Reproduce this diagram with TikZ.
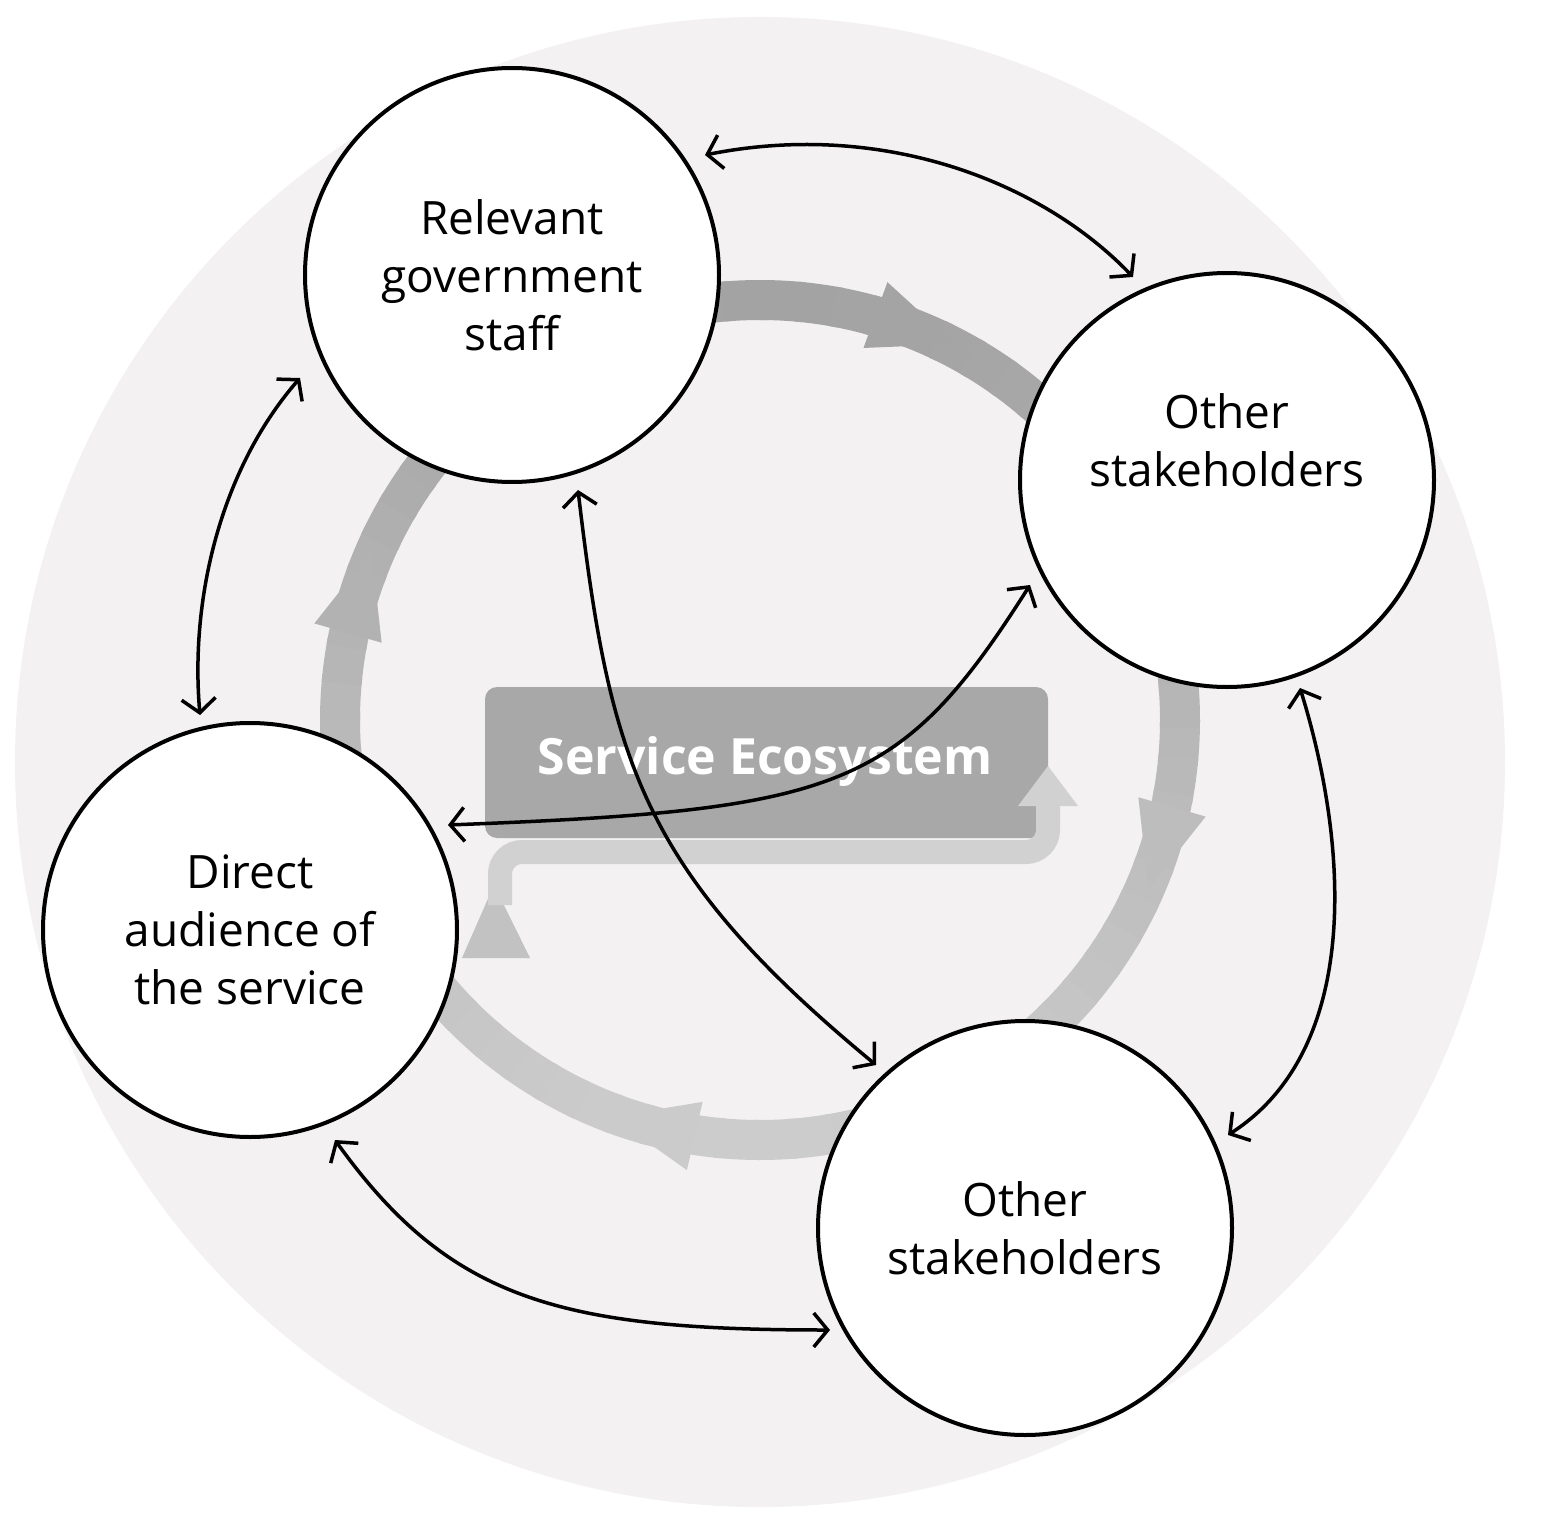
\documentclass[tikz,border=0pt]{standalone}
\usepackage{fontspec}
\setmainfont{Open Sans}
\usetikzlibrary{arrows.meta}
\definecolor{bgc}{HTML}{F3F1F1}
\tikzset{
  actor/.style={circle,draw=black,line width=4pt,fill=white,minimum size=414pt,inner sep=0pt,align=center,font=\fontsize{46}{58}\selectfont},
  link/.style={line width=3.5pt,{Straight Barb[length=14pt,width=34pt,line width=3.5pt]}-{Straight Barb[length=14pt,width=34pt,line width=3.5pt]}}
}
\begin{document}
\begin{tikzpicture}[x=1pt,y=-1pt]
\useasboundingbox (0,0) rectangle (1553,1538);
\fill[bgc] (760,762) circle (745);
% ring
\foreach \a in {0,5,...,355}{
  \pgfmathsetmacro{\s}{36-16*(1+sin(\a))/2}
  \draw[line width=40pt,color=black!\s] ([shift={(\a:420)}]760,720) arc[start angle=\a,end angle=\a+6,radius=420];
}
\foreach \a in {-70,16,103,196}{
  \pgfmathsetmacro{\s}{36-16*(1+sin(\a))/2}
  \begin{scope}[shift={(760,720)},rotate=-\a]
   \fill[black!\s] (385,-30)--(455,-30)--(420,55)--cycle;
  \end{scope}
}
% lower-left ring arrow head
\fill[black!24] (462,958)--(530,958)--(494,885)--cycle;
% box
\fill[black!34,rounded corners=12pt] (485,687) rectangle (1048,838);
\draw[line width=24pt,color=black!18,rounded corners=22pt] (500,905)--(500,852)--(1048,852)--(1048,800);
\fill[black!18] (1018,806)--(1078,806)--(1048,766)--cycle;
\node[font=\fontsize{50}{54}\selectfont\bfseries,text=white] (box) at (765,762) {Service Ecosystem};
% circles
\node[actor] (gov) at (512,275) {Relevant\\government\\staff};
\node[actor] (o1) at (1227,480) {Other\\stakeholders\\[22pt]};
\node[actor] (dir) at (250,930) {Direct\\audience of\\the service};
\node[actor] (o2) at (1025,1228) {Other\\stakeholders};
% arrows
\coordinate (a1) at (705,155); \coordinate (b1) at (1133,277);
\draw[link] (a1) .. controls (880,120) and (1040,180) .. (b1);
\coordinate (a2) at (300,378); \coordinate (b2) at (200,715);
\draw[link] (a2) .. controls (220,470) and (190,600) .. (b2);
\coordinate (a3) at (578,490); \coordinate (b3) at (876,1065);
\draw[link] (a3) .. controls (610,760) and (640,870) .. (b3);
\coordinate (a4) at (448,825); \coordinate (b4) at (1030,585);
\draw[link] (a4) .. controls (840,810) and (900,790) .. (b4);
\coordinate (a5) at (335,1140); \coordinate (b5) at (830,1330);
\draw[link] (a5) .. controls (450,1300) and (560,1330) .. (b5);
\coordinate (a6) at (1300,688); \coordinate (b6) at (1228,1135);
\draw[link] (a6) .. controls (1350,850) and (1360,1050) .. (b6);
\end{tikzpicture}
\end{document}
